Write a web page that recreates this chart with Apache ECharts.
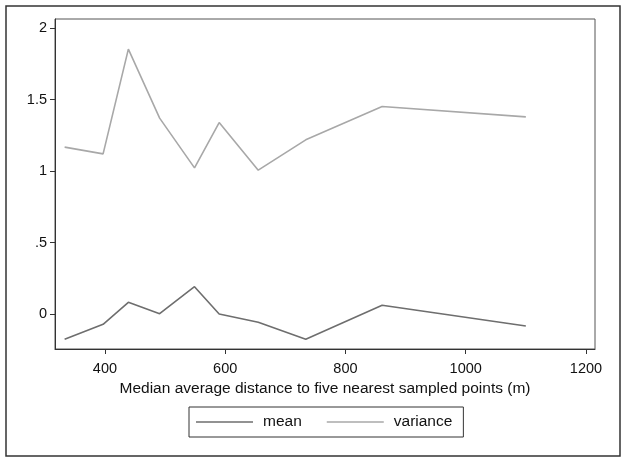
<!DOCTYPE html>
<html>
<head>
<meta charset="utf-8">
<script src="https://cdn.jsdelivr.net/npm/echarts@6/dist/echarts.min.js"></script>
<style>
html,body{margin:0;padding:0;background:#fff;}
#c{width:626px;height:462px;}
</style>
</head>
<body>
<div id="c"></div>
<script>
const distance = [333, 397, 439, 491, 549, 590, 655, 734, 861, 1100];
const meanValues = [-0.177, -0.072, 0.082, 0.002, 0.191, 0.0, -0.058, -0.177, 0.061, -0.084];
const varianceValues = [1.168, 1.121, 1.854, 1.371, 1.023, 1.340, 1.007, 1.219, 1.452, 1.380];
const xTicks = [400, 600, 800, 1000, 1200];
const yTicks = [0, 0.5, 1, 1.5, 2];
const yTickLabels = ['0', '.5', '1', '1.5', '2'];
const seriesNames = ['mean', 'variance'];
const xTitle = 'Median average distance to five nearest sampled points (m)';

const font = 'Liberation Sans, Arial, Helvetica, sans-serif';
const chart = echarts.init(document.getElementById('c'), null, {renderer: 'canvas'});
chart.setOption({
  animation: false,
  backgroundColor: '#fff',
  grid: {left: 55, top: 19, right: 31, bottom: 113, show: true, borderColor: '#555', borderWidth: 1},
  graphic: [{
    type: 'rect', shape: {x: 6, y: 6, width: 614, height: 450},
    style: {fill: 'none', stroke: '#333', lineWidth: 1.5}, silent: true
  }],
  xAxis: {
    type: 'value', min: 317, max: 1215,
    name: xTitle, nameLocation: 'middle', nameGap: 31,
    nameTextStyle: {fontFamily: font, fontSize: 15.5, color: '#111'},
    axisLine: {show: true, onZero: false, lineStyle: {color: '#333', width: 1}},
    axisTick: {show: true, length: 5, lineStyle: {color: '#333'}, customValues: xTicks},
    axisLabel: {fontFamily: font, fontSize: 14.5, color: '#111', margin: 12, customValues: xTicks,
      formatter: function (v) { return String(v); }},
    splitLine: {show: false}
  },
  yAxis: {
    type: 'value', min: -0.245, max: 2.065,
    axisLine: {show: true, onZero: false, lineStyle: {color: '#333', width: 1}},
    axisTick: {show: true, length: 5, lineStyle: {color: '#333'}, customValues: yTicks},
    axisLabel: {fontFamily: font, fontSize: 14.5, color: '#111', margin: 8, customValues: yTicks,
      formatter: function (v) { const i = yTicks.indexOf(v); return i >= 0 ? yTickLabels[i] : ''; }},
    splitLine: {show: false}
  },
  legend: {
    left: 189, top: 407, orient: 'horizontal', icon: 'rect',
    padding: [6, 11, 6, 7], itemGap: 25, itemWidth: 57, itemHeight: 1.6,
    borderColor: '#333', borderWidth: 1,
    textStyle: {fontFamily: font, fontSize: 15.5, color: '#111', padding: [0, 0, 0, 5], lineHeight: 18},
    data: seriesNames
  },
  series: [
    {name: seriesNames[0], type: 'line', symbol: 'none', data: distance.map((d, i) => [d, meanValues[i]]),
     lineStyle: {color: '#6e6e6e', width: 1.6}, itemStyle: {color: '#6e6e6e'}},
    {name: seriesNames[1], type: 'line', symbol: 'none', data: distance.map((d, i) => [d, varianceValues[i]]),
     lineStyle: {color: '#a8a8a8', width: 1.6}, itemStyle: {color: '#a8a8a8'}}
  ]
});
</script>
</body>
</html>
